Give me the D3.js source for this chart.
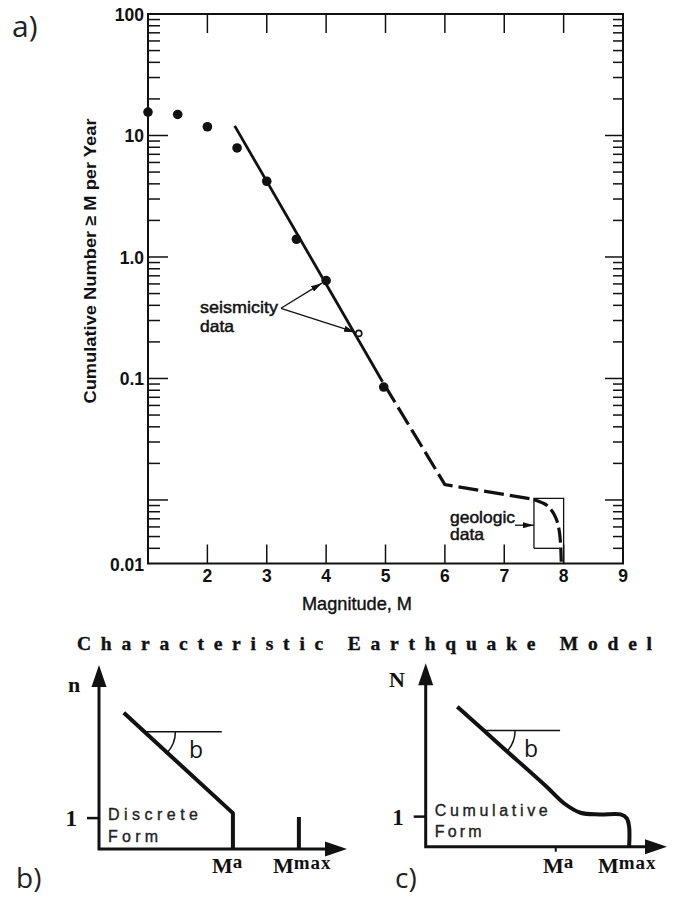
<!DOCTYPE html>
<html><head><meta charset="utf-8">
<script src="https://cdn.jsdelivr.net/npm/d3@7"></script>
<style>body{margin:0;background:#fff}svg{display:block}</style>
</head><body>
<svg id="c" width="674" height="899"></svg>
<script>
// ---------- DATA (panel a) ----------
const magnitudes      = [1.0, 1.5, 2.0, 2.5, 3.0, 3.5, 4.0, 4.97];
const cumulativeRates = [15.6, 14.9, 11.8, 7.9, 4.2, 1.40, 0.64, 0.085];
const openPointM = [4.55];
const openPointN = [0.235];
const fitSolidM  = [2.46, 4.95];
const fitSolidN  = [12.0, 0.094];
const fitDashedM = [4.95, 6.0, 7.5];
const fitDashedN = [0.094, 0.0134, 0.0101];
const geoCurveM  = [7.5, 7.66, 7.79, 7.87, 7.92, 7.945, 7.955, 7.96];
const geoCurveN  = [0.0101, 0.0094, 0.0083, 0.0071, 0.0058, 0.0046, 0.0037, 0.0031];
const geoBoxM    = [7.5, 7.5, 8.0, 8.0];
const geoBoxN    = [0.0040, 0.0103, 0.0103, 0.003];
const geoBoxBottomM = [7.5, 7.93];
const geoBoxBottomN = [0.0040, 0.0040];
const xTickValues = [2, 3, 4, 5, 6, 7, 8, 9];
const xTickLabels = ["2", "3", "4", "5", "6", "7", "8", "9"];
const yTickValues = [100, 10, 1, 0.1, 0.003];
const yTickLabels = ["100", "10", "1.0", "0.1", "0.01"];

// ---------- DATA (schematic panels b, c) ----------
const discreteM = [1.0, 5.4, 5.4];
const discreteN = [7.4, 1.95, 0];
const discreteMaxM = [8.06, 8.06];
const discreteMaxN = [0, 1.74];
const discreteRefM = [1.83, 4.95];
const discreteRefN = [6.37, 6.37];
const cumulM = [1.31, 3.2, 5.0, 5.73, 6.42, 7.22, 8.08, 8.33, 8.43, 8.43];
const cumulN = [7.63, 5.4, 3.28, 2.37, 1.85, 1.76, 1.76, 1.55, 1.09, 0];
const cumulRefM = [2.42, 5.57];
const cumulRefN = [6.33, 6.33];

// ---------- SETUP ----------
const svg = d3.select('#c');
const SANS = "'Liberation Sans', Arial, Helvetica, sans-serif";
const SERIF = "'Liberation Serif', 'Times New Roman', serif";
const OPEN = "'Open Sans', 'Noto Sans', sans-serif";
const INK = '#111';

const defs = svg.append('defs');
defs.append('marker').attr('id','ah').attr('viewBox','0 0 11 6')
  .attr('refX',11).attr('refY',3).attr('markerWidth',11).attr('markerHeight',6)
  .attr('markerUnits','userSpaceOnUse').attr('orient','auto')
  .append('path').attr('d','M0,0L11,3L0,6z').attr('fill',INK);

// ---------- PANEL A ----------
const x = d3.scaleLinear().domain([1, 9]).range([148, 623]);
const y = d3.scaleLog().domain([0.003, 100]).range([563.5, 14]);

const gA = svg.append('g');
gA.append('rect').attr('x', x(1)).attr('y', y(100))
  .attr('width', x(9) - x(1)).attr('height', y(0.003) - y(100))
  .attr('fill','none').attr('stroke',INK).attr('stroke-width',2);

const yMinor = [];
for (let d = -3; d < 2; d++) for (let k = 1; k < 10; k++) {
  const v = +(k * Math.pow(10, d)).toPrecision(6);
  if (v > 0.003 + 1e-9 && v < 100) yMinor.push(v);
}
const isDecade = v => Math.abs(Math.log10(v) - Math.round(Math.log10(v))) < 1e-6;
gA.selectAll('.yt').data(yMinor).join('line')
  .attr('x1', x(1)).attr('x2', v => x(1) + (isDecade(v) ? 20 : 12))
  .attr('y1', v => y(v)).attr('y2', v => y(v))
  .attr('stroke', INK).attr('stroke-width', 1.5);
gA.selectAll('.yt2').data(yMinor).join('line')
  .attr('x1', x(9)).attr('x2', v => x(9) - (isDecade(v) ? 18 : 10))
  .attr('y1', v => y(v)).attr('y2', v => y(v))
  .attr('stroke', INK).attr('stroke-width', 1.5);

const xInner = xTickValues.filter(v => v < 9);
gA.selectAll('.xb').data(xInner).join('line')
  .attr('x1', v => x(v)).attr('x2', v => x(v))
  .attr('y1', y(0.003)).attr('y2', y(0.003) - 19)
  .attr('stroke', INK).attr('stroke-width', 1.5);
gA.selectAll('.xt').data(xInner).join('line')
  .attr('x1', v => x(v)).attr('x2', v => x(v))
  .attr('y1', y(100)).attr('y2', y(100) + 19)
  .attr('stroke', INK).attr('stroke-width', 1.5);

gA.selectAll('.xl').data(xTickValues).join('text')
  .attr('x', v => x(v)).attr('y', 582).attr('text-anchor','middle')
  .attr('font-family', SANS).attr('font-weight','bold').attr('font-size', 17.5)
  .attr('fill', INK).text((v, i) => xTickLabels[i]);
gA.selectAll('.yl').data(yTickValues).join('text')
  .attr('x', 144).attr('y', v => y(v) + 7).attr('text-anchor','end')
  .attr('font-family', SANS).attr('font-weight','bold').attr('font-size', 17.5)
  .attr('fill', INK).text((v, i) => yTickLabels[i]);

gA.append('text').attr('transform','translate(96,261) rotate(-90)')
  .attr('text-anchor','middle').attr('font-family', SANS).attr('font-weight','bold')
  .attr('font-size', 17).attr('fill', INK)
  .attr('textLength', 285).attr('lengthAdjust','spacingAndGlyphs')
  .text('Cumulative Number \u2265 M per Year');
gA.append('text').attr('x', 302).attr('y', 610)
  .attr('font-family', SANS).attr('font-size', 18.5).attr('fill', INK)
  .attr('stroke', INK).attr('stroke-width', 0.4)
  .attr('textLength', 110).attr('lengthAdjust','spacingAndGlyphs')
  .text('Magnitude, M');

const lineA = d3.line().x(d => x(d[0])).y(d => y(d[1]));
gA.append('path').attr('d', lineA(d3.zip(fitSolidM, fitSolidN)))
  .attr('fill','none').attr('stroke',INK).attr('stroke-width',2.8);
gA.append('path').attr('d', lineA(d3.zip(fitDashedM, fitDashedN)))
  .attr('fill','none').attr('stroke',INK).attr('stroke-width',3.2)
  .attr('stroke-dasharray','20,6').attr('stroke-dashoffset',-4);
gA.append('path').attr('d', d3.line().x(d => x(d[0])).y(d => y(d[1])).curve(d3.curveMonotoneY)(d3.zip(geoCurveM, geoCurveN)))
  .attr('fill','none').attr('stroke',INK).attr('stroke-width',3.2)
  .attr('stroke-dasharray','15,5');

gA.append('path').attr('d', lineA(d3.zip(geoBoxM, geoBoxN)))
  .attr('fill','none').attr('stroke',INK).attr('stroke-width',1.3);
gA.append('path').attr('d', lineA(d3.zip(geoBoxBottomM, geoBoxBottomN)))
  .attr('fill','none').attr('stroke',INK).attr('stroke-width',1.3);

gA.selectAll('.pt').data(d3.zip(magnitudes, cumulativeRates)).join('circle')
  .attr('cx', d => x(d[0])).attr('cy', d => y(d[1])).attr('r', 4.8).attr('fill', INK);
gA.selectAll('.op').data(d3.zip(openPointM, openPointN)).join('circle')
  .attr('cx', d => x(d[0])).attr('cy', d => y(d[1])).attr('r', 3)
  .attr('fill','#fff').attr('stroke',INK).attr('stroke-width',1.6);

function arrowTo(x0, y0, cx, cy, gap) {
  const dx = cx - x0, dy = cy - y0, L = Math.hypot(dx, dy);
  return [x0, y0, cx - dx / L * gap, cy - dy / L * gap];
}
const vx = x(3.24), vy = y(0.378);
[[x(magnitudes[6]), y(cumulativeRates[6]), 5], [x(openPointM[0]), y(openPointN[0]), 4]].forEach(t => {
  const a = arrowTo(vx, vy, t[0], t[1], t[2]);
  gA.append('line').attr('x1',a[0]).attr('y1',a[1]).attr('x2',a[2]).attr('y2',a[3])
    .attr('stroke',INK).attr('stroke-width',1.3).attr('marker-end','url(#ah)');
});
function note(txt, tx, ty, len) {
  const t = gA.append('text').attr('x',tx).attr('y',ty).attr('font-family',SANS).attr('font-size',16.5)
    .attr('fill',INK).attr('stroke',INK).attr('stroke-width',0.45).text(txt);
  if (len) t.attr('textLength',len).attr('lengthAdjust','spacingAndGlyphs');
}
note('seismicity', 200, 313, 78);
note('data', 200, 331.5, 34);
note('geologic', 450, 522.5, 65);
note('data', 450, 540, 34);
gA.append('line').attr('x1',515).attr('y1',y(0.0062)).attr('x2',x(7.5)).attr('y2',y(0.0062))
  .attr('stroke',INK).attr('stroke-width',1.3).attr('marker-end','url(#ah)');

// panel labels
svg.append('text').attr('x',12).attr('y',37).attr('font-family',OPEN).attr('font-size',30)
  .attr('fill','#222').text('a)');
svg.append('text').attr('x',16).attr('y',888).attr('font-family',OPEN).attr('font-size',28)
  .attr('fill','#222').text('b)');
svg.append('text').attr('x',395).attr('y',888).attr('font-family',OPEN).attr('font-size',28)
  .attr('fill','#222').text('c)');

// title
svg.append('text').attr('x',77).attr('y',650).attr('font-family',SERIF).attr('font-weight','bold')
  .attr('font-size',19.5).attr('fill',INK).attr('stroke',INK).attr('stroke-width',0.4)
  .attr('textLength',575).attr('lengthAdjust','spacing')
  .text('Characteristic Earthquake Model');

// ---------- SCHEMATIC PANELS ----------
function schematic(opts) {
  const g = svg.append('g');
  const sx = d3.scaleLinear().domain([0,10]).range(opts.xr);
  const sy = d3.scaleLinear().domain([0,10]).range(opts.yr);
  const L = d3.line().x(d => sx(d[0])).y(d => sy(d[1]));
  const ah = 22, hw = 7.5;
  g.append('path').attr('d', `M${sx(0)},${sy(10) + ah - 2}L${sx(0)},${sy(0)}L${sx(10) - ah + 2},${sy(0)}`)
    .attr('fill','none').attr('stroke',INK).attr('stroke-width',3);
  g.append('path').attr('d', `M${sx(0)},${sy(10)}L${sx(0) - hw},${sy(10) + ah}L${sx(0) + hw},${sy(10) + ah}Z`).attr('fill',INK);
  g.append('path').attr('d', `M${sx(10)},${sy(0)}L${sx(10) - ah},${sy(0) - hw}L${sx(10) - ah},${sy(0) + hw}Z`).attr('fill',INK);
  g.append('line').attr('x1', sx(0) - 12).attr('x2', sx(0)).attr('y1', sy(opts.one)).attr('y2', sy(opts.one))
    .attr('stroke',INK).attr('stroke-width',2.5);
  g.append('text').attr('x', sx(0) - 22).attr('y', sy(opts.one) + 8).attr('text-anchor','end')
    .attr('font-family',SERIF).attr('font-weight','bold').attr('font-size',23).attr('fill',INK).text('1');
  g.append('text').attr('x', opts.yLabX).attr('y', opts.yLabY).attr('text-anchor','middle')
    .attr('font-family',SERIF).attr('font-weight','bold').attr('font-size',22).attr('fill',INK).text(opts.yLab);
  g.append('path').attr('d', L.curve(opts.curve)(d3.zip(opts.m, opts.n)))
    .attr('fill','none').attr('stroke',INK).attr('stroke-width',4).attr('stroke-linejoin','round');
  L.curve(d3.curveLinear);
  g.append('path').attr('d', L(d3.zip(opts.refM, opts.refN)))
    .attr('fill','none').attr('stroke',INK).attr('stroke-width',1.5);
  const cx = sx(opts.refM[0]), cy = sy(opts.refN[0]);
  const se = opts.straightEnd;
  const ang = Math.atan2(sy(opts.n[se]) - sy(opts.n[0]), sx(opts.m[se]) - sx(opts.m[0]));
  const r = 31;
  g.append('path').attr('d', `M${cx + r},${cy}A${r},${r} 0 0 1 ${cx + r * Math.cos(ang)},${cy + r * Math.sin(ang)}`)
    .attr('fill','none').attr('stroke',INK).attr('stroke-width',1.5);
  g.append('text').attr('x', opts.bX).attr('y', opts.bY).attr('font-family',OPEN).attr('font-size',23)
    .attr('fill',INK).text('b');
  opts.words.forEach((w, i) => {
    g.append('text').attr('x', sx(0) + 9).attr('y', opts.wordY[i]).attr('font-family',SANS)
      .attr('font-size',16).attr('fill','#222').attr('stroke','#222').attr('stroke-width',0.35)
      .attr('textLength', opts.wordLen[i]).attr('lengthAdjust','spacing').text(w);
  });
  const ma = g.append('text').attr('x', opts.maX).attr('y', 873).attr('font-family',SERIF)
    .attr('font-weight','bold').attr('font-size',22).attr('fill',INK);
  ma.append('tspan').text('M');
  ma.append('tspan').attr('dy',-5).attr('font-size',19).text('a');
  const mm = g.append('text').attr('x', opts.mmX).attr('y', 873).attr('font-family',SERIF)
    .attr('font-weight','bold').attr('font-size',22).attr('fill',INK);
  mm.append('tspan').text('M');
  mm.append('tspan').attr('dy',-4).attr('font-size',19).attr('letter-spacing',1).text('max');
  return {g, sx, sy, L};
}

const pb = schematic({
  xr: [99, 347], yr: [849, 665], one: 1.68, yLab: 'n', yLabX: 74, yLabY: 692,
  m: discreteM, n: discreteN, curve: d3.curveLinear, straightEnd: 1,
  refM: discreteRefM, refN: discreteRefN, bX: 189, bY: 758,
  words: ['Discrete', 'Form'], wordY: [820, 842], wordLen: [90, 50],
  maX: 212, mmX: 273
});
pb.g.append('path').attr('d', pb.L(d3.zip(discreteMaxM, discreteMaxN)))
  .attr('fill','none').attr('stroke',INK).attr('stroke-width',4);

const pc = schematic({
  xr: [425.7, 667], yr: [846.7, 663.3], one: 1.64, yLab: 'N', yLabX: 397, yLabY: 687,
  m: cumulM, n: cumulN, curve: d3.curveCatmullRom.alpha(0.5), straightEnd: 2,
  refM: cumulRefM, refN: cumulRefN, bX: 524, bY: 757,
  words: ['Cumulative', 'Form'], wordY: [816, 837], wordLen: [113, 47],
  maX: 543, mmX: 598
});
pc.g.append('line').attr('x1', pc.sx(5.39)).attr('x2', pc.sx(5.39))
  .attr('y1', pc.sy(0)).attr('y2', pc.sy(0) + 5).attr('stroke',INK).attr('stroke-width',2);
</script>
</body></html>
